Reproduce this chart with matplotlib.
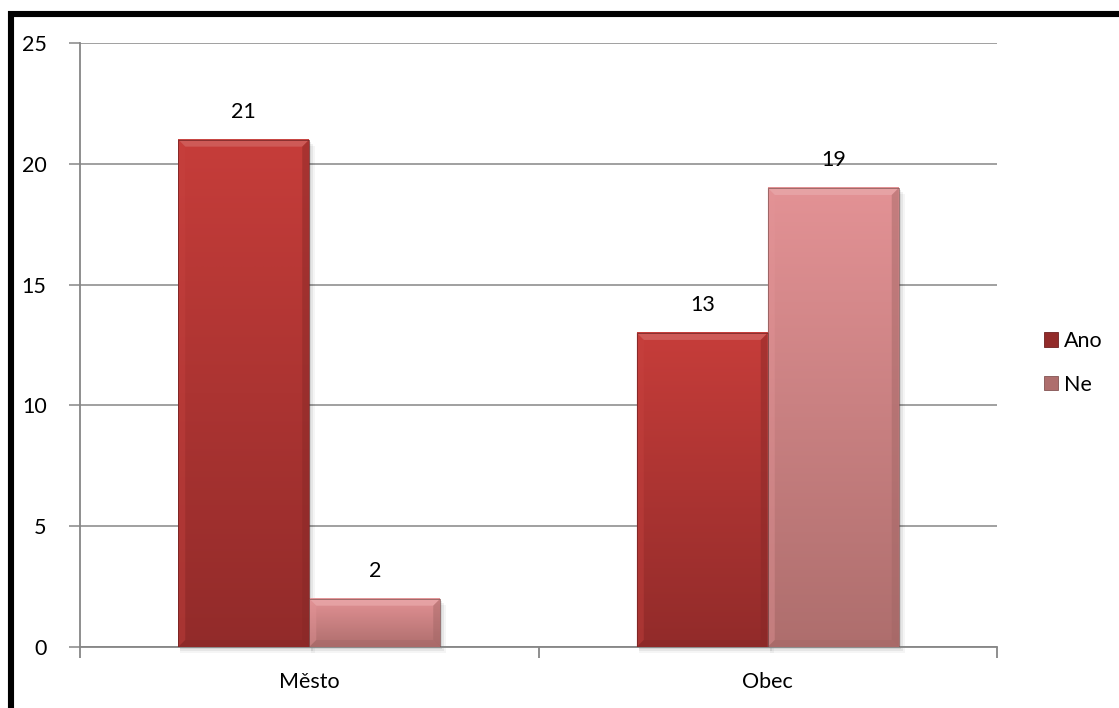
import numpy as np
import matplotlib
matplotlib.use("Agg")
import matplotlib.pyplot as plt
from matplotlib.colors import LinearSegmentedColormap
from matplotlib.patches import Rectangle, Polygon

plt.rcParams['font.family'] = ['Lato', 'DejaVu Sans']

categories = ["Město", "Obec"]
series = ["Ano", "Ne"]
ano = [21, 13]
ne = [2, 19]
values = [ano, ne]

# top / bottom colours of each series' gradient
grad = {
    "Ano": ("#c63d3a", "#922b2a"),
    "Ne": ("#e39295", "#ae6e6d"),
}

W, H = 1119, 708
fig = plt.figure(figsize=(W / 100, H / 100), dpi=100)
ax = fig.add_axes([80 / W, 61 / H, 917 / W, 604 / H])

ymax = 25
ax.set_xlim(-0.5, 1.5)
ax.set_ylim(0, ymax)
px_x = 917 / 2.0
px_y = 604 / ymax

bar_w = 0.2857
gray = "#868686"
fs = 15.5

ax.set_yticks(range(0, 26, 5))
ax.yaxis.grid(True, color=gray, linewidth=1.1)
ax.set_axisbelow(True)
for s in ["top", "right"]:
    ax.spines[s].set_visible(False)
for s in ["left", "bottom"]:
    ax.spines[s].set_color(gray)
    ax.spines[s].set_linewidth(1.3)
ax.tick_params(axis="y", length=8, color=gray, width=1.1, labelsize=fs, pad=16)
ax.set_xticks([0, 1])
ax.set_xticklabels(categories)
ax.tick_params(axis="x", which="major", length=0, labelsize=fs, pad=18)
ax.set_xticks([-0.5, 0.5, 1.5], minor=True)
ax.tick_params(axis="x", which="minor", length=8, color=gray, width=1.3)


def shade(c, f):
    c = np.array(matplotlib.colors.to_rgb(c))
    if f > 0:
        return tuple(c + (1 - c) * f)
    return tuple(c * (1 + f))


def draw_bar(x0, h, top, bot):
    x1 = x0 + bar_w
    # soft shadow
    for k, a in [(6, 0.04), (4, 0.06), (2, 0.08)]:
        ax.add_patch(Rectangle((x0 + 2 / px_x, -k / px_y), bar_w + (k - 2) / px_x, h,
                               color="black", alpha=a, lw=0, zorder=2, clip_on=False))
    cmap = LinearSegmentedColormap.from_list("g", [bot, top])
    g = np.linspace(0, 1, 256).reshape(-1, 1)
    ax.imshow(g, cmap=cmap, origin="lower", aspect="auto",
              extent=(x0, x1, 0, h), zorder=3, interpolation="bicubic")
    bx, by = 7 / px_x, 7 / px_y
    by = min(by, h / 2.5)
    # bevel edges
    edges = [
        ([(x0, h), (x1, h), (x1 - bx, h - by), (x0 + bx, h - by)], shade(top, 0.22), 0.7),
        ([(x0, 0), (x0, h), (x0 + bx, h - by), (x0 + bx, by)], shade(top, 0.03), 0.4),
        ([(x1, 0), (x1, h), (x1 - bx, h - by), (x1 - bx, by)], shade(bot, -0.08), 0.45),
        ([(x0, 0), (x1, 0), (x1 - bx, by), (x0 + bx, by)], shade(bot, -0.06), 0.45),
    ]
    for pts, c, a in edges:
        ax.add_patch(Polygon(pts, closed=True, color=c, lw=0, alpha=a, zorder=4))
    ax.add_patch(Rectangle((x0, 0), bar_w, h, fill=False, ec=shade(bot, -0.25),
                           lw=0.5, zorder=5))


x = np.arange(len(categories))
for i, name in enumerate(series):
    top, bot = grad[name]
    for j, v in enumerate(values[i]):
        x0 = x[j] - bar_w + i * bar_w
        draw_bar(x0, v, top, bot)
        ax.text(x0 + bar_w / 2, v + 0.75, str(v), ha="center", va="bottom",
                fontsize=fs, zorder=6)

handles = [Rectangle((0, 0), 1, 1, fc=grad[n][1], ec=shade(grad[n][1], -0.25), lw=0.6)
           for n in series]
fig.legend(handles, series, loc="center left", bbox_to_anchor=(1035 / W, 1 - 363 / H),
           frameon=False, fontsize=fs, handlelength=0.65, handleheight=0.65,
           handletextpad=0.3, labelspacing=1.1, borderaxespad=0)

# black frame around the chart area
fig.add_artist(Rectangle((11 / W, -0.1), 1.2, 1.1 - 14 / H, transform=fig.transFigure,
                         fill=False, ec="black", lw=4.4))

fig.savefig("out.png", dpi=100)
